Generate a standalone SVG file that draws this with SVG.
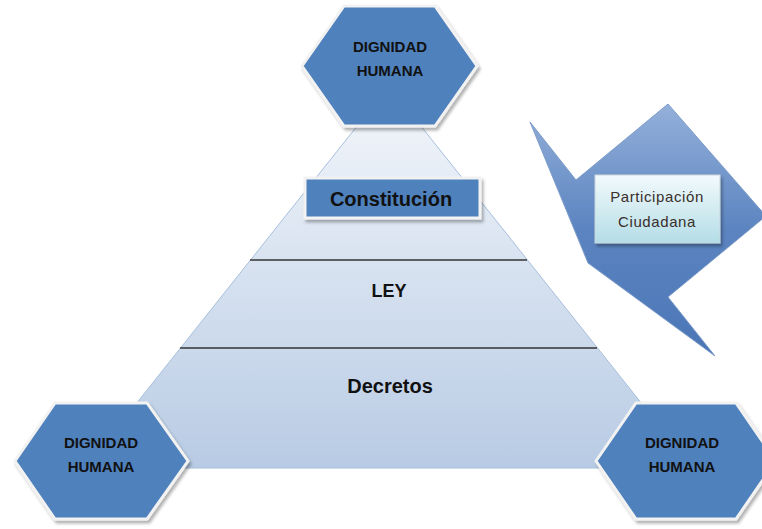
<svg xmlns="http://www.w3.org/2000/svg" width="762" height="529" viewBox="0 0 762 529">
<defs>
<linearGradient id="pyr" x1="0" y1="0" x2="0" y2="1">
<stop offset="0" stop-color="#f4f7fb"/>
<stop offset="1" stop-color="#b8cbe4"/>
</linearGradient>
<linearGradient id="arr" x1="0" y1="0" x2="0" y2="1">
<stop offset="0" stop-color="#94b0da"/>
<stop offset="0.5" stop-color="#5b84c0"/>
<stop offset="1" stop-color="#4b76b6"/>
</linearGradient>
<linearGradient id="box" x1="0" y1="0" x2="0" y2="1">
<stop offset="0" stop-color="#f2fafc"/>
<stop offset="1" stop-color="#b4dde7"/>
</linearGradient>
<filter id="sh" x="-10%" y="-10%" width="130%" height="130%">
<feDropShadow dx="2" dy="3" stdDeviation="1.5" flood-color="#000" flood-opacity="0.3"/>
</filter>
</defs>
<style>
.hex{fill:#4f81bd;stroke:#f2f2f2;stroke-width:3;filter:url(#sh)}
.ht{font-family:"Liberation Sans",Arial,sans-serif;font-weight:bold;font-size:15px;fill:#111;text-anchor:middle}
.lvl{font-family:"Liberation Sans",Arial,sans-serif;font-weight:bold;fill:#111;text-anchor:middle}
.sep{stroke:#333;stroke-width:1.5}
</style>
<g id="pyramid">
<polygon points="389,86 693,468 85,468" fill="url(#pyr)" stroke="#a6bfdc" stroke-width="1"/>
</g>
<g id="connectors">
<line class="sep" x1="250" y1="260" x2="527" y2="260"/>
<line class="sep" x1="180" y1="348" x2="597" y2="348"/>
</g>
<g id="ley">
<text class="lvl" x="389" y="297" font-size="18">LEY</text>
</g>
<g id="decretos">
<text class="lvl" x="390" y="393" font-size="20">Decretos</text>
</g>
<g id="constitucion">
<rect x="305" y="178" width="175" height="40" fill="#4f81bd" stroke="#f2f2f2" stroke-width="3" filter="url(#sh)"/>
<text class="lvl" x="391" y="206" font-size="20">Constitución</text>
</g>
<g id="hex-top">
<polygon class="hex" points="302,66 344,6 435,6 477,66 435,126 344,126"/>
<text class="ht" x="390" y="52">DIGNIDAD</text>
<text class="ht" x="390" y="76">HUMANA</text>
</g>
<g id="hex-left">
<polygon class="hex" points="15,461 55,403 147,403 188,461 147,519 55,519"/>
<text class="ht" x="101" y="448">DIGNIDAD</text>
<text class="ht" x="101" y="472">HUMANA</text>
</g>
<g id="hex-right">
<polygon class="hex" points="596,461 636,403 736,403 776,461 736,519 636,519"/>
<text class="ht" x="682" y="448">DIGNIDAD</text>
<text class="ht" x="682" y="472">HUMANA</text>
</g>
<g id="arrow">
<polygon points="530,122 576,180 668,104 766,216 668,297 715,356 588,263" fill="url(#arr)" stroke="#7d9cc9" stroke-width="1"/>
</g>
<g id="participacion">
<rect x="595" y="175" width="125" height="68" fill="url(#box)" stroke="#c9d6dc" stroke-width="1" filter="url(#sh)"/>
<text x="657" y="202" font-family="Liberation Sans,Arial,sans-serif" font-size="15" letter-spacing="0.6" fill="#3a2f2a" text-anchor="middle">Participación</text>
<text x="657" y="227" font-family="Liberation Sans,Arial,sans-serif" font-size="15" letter-spacing="0.6" fill="#3a2f2a" text-anchor="middle">Ciudadana</text>
</g>
</svg>
